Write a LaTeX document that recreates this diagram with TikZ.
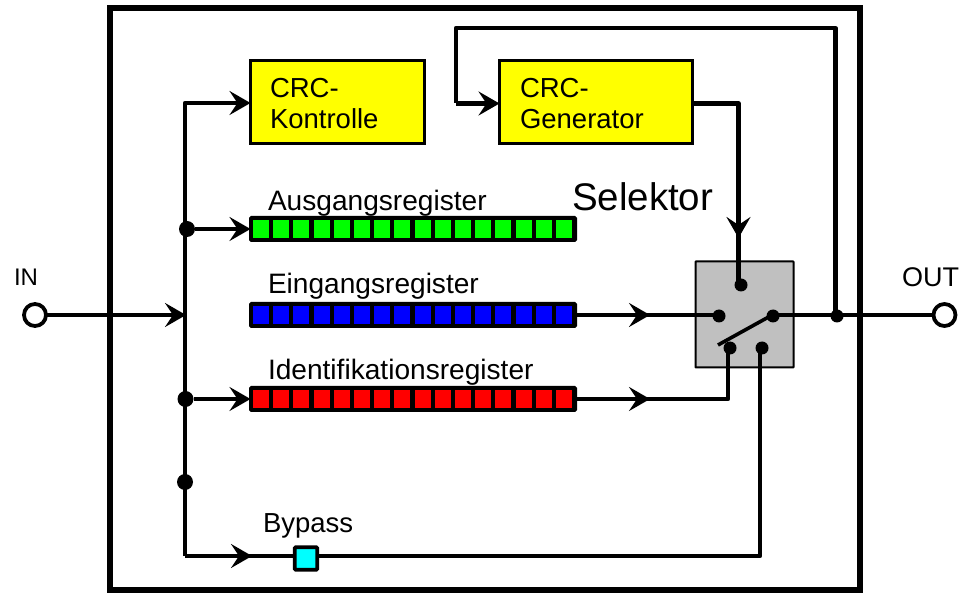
\documentclass[tikz,border=0pt]{standalone}
\usepackage{fontspec}
\setmainfont{Liberation Sans}
\usetikzlibrary{arrows.meta,calc}
\pgfdeclarelayer{front}
\pgfsetlayers{main,front}
\definecolor{crcyellow}{RGB}{255,255,0}
\definecolor{selgray}{RGB}{192,192,192}
\definecolor{regcyan}{RGB}{0,255,255}
\definecolor{reggreen}{RGB}{0,255,0}
\definecolor{regblue}{RGB}{0,0,255}
\definecolor{regred}{RGB}{255,0,0}
\tikzset{
  every node/.style={outer sep=0pt,inner sep=0pt},
  wire/.style={line width=4.2pt,line join=round,black},
  arrowwire/.style={wire,-{Stealth[length=21pt,width=24pt,inset=8pt]}},
  crcbox/.style={draw=black,line width=3pt,fill=crcyellow,anchor=north west},
  regbox/.style={draw=black,line width=3pt,rounded corners=1pt,fill=black,anchor=west,minimum width=325pt,minimum height=23pt},
  cell/.style={minimum width=16pt,minimum height=18pt,anchor=west},
  dot/.style={circle,fill=black,minimum size=#1},
  dot/.default=13pt,
  port/.style={circle,draw=black,line width=3.8pt,fill=white,minimum size=22pt},
  lbl/.style={anchor=base west,font=\fontsize{27.5}{30}\selectfont,text=black},
  reglbl/.style={lbl,font=\fontsize{28.1}{30}\selectfont}
}
\begin{document}
\begin{tikzpicture}[x=1pt,y=-1pt]
\useasboundingbox (0,0) rectangle (962,612);
\fill[white] (0,0) rectangle (962,612);
\node[draw=black,line width=5.5pt,minimum width=750pt,minimum height=582pt,anchor=north west] (frame) at (110,8) {};

% selector body
\node[draw=black,line width=2pt,rounded corners=0.5pt,fill=selgray,minimum width=98pt,minimum height=106pt,anchor=north west] (sel) at (695.5,261.5) {};

% function boxes
\node[crcbox,minimum width=174pt,minimum height=83pt] (kon) at (250.5,60.5) {};
\node[crcbox,minimum width=193pt,minimum height=83pt] (gen) at (499.5,60.5) {};
\node[lbl] (konA) at (270,98) {CRC-};
\node[lbl] (konB) at (270,129) {Kontrolle};
\node[lbl] (genA) at (520,98) {CRC-};
\node[lbl] (genB) at (520,129) {Generator};

% registers
\node[regbox] (ar) at (250.5,229) {};
\node[regbox] (er) at (250.5,315) {};
\node[regbox] (ir) at (250.5,399) {};
\foreach \i in {0,...,15}{
  \node[cell,fill=reggreen] (ag\i) at (253+\i*20.2,229) {};
  \node[cell,fill=regblue] (eb\i) at (253+\i*20.2,315) {};
  \node[cell,fill=regred] (ir\i) at (253+\i*20.2,399) {};
}
\node[reglbl] (la) at (268,210.5) {Ausgangsregister};
\node[reglbl] (le) at (268,293.5) {Eingangsregister};
\node[reglbl] (li) at (268,379.5) {Identifikationsregister};
\node[lbl,font=\fontsize{38.5}{42}\selectfont] (ls) at (572,211) {Selektor};
\node[lbl] (lb) at (263,532) {Bypass};
\node[lbl,font=\fontsize{24}{26}\selectfont] (lin) at (14,286) {IN};
\node[lbl,font=\fontsize{27}{28}\selectfont] (lout) at (902,287) {OUT};

\begin{pgfonlayer}{front}
  \node[draw=black,line width=3.6pt,rounded corners=1pt,fill=regcyan,minimum size=22.5pt] (bp) at (306,558.5) {};
  \node[port] (in) at (35,315) {};
  \node[port] (out) at (944.5,315) {};
\end{pgfonlayer}

% junctions and contacts
\coordinate (bustop) at (185,103);
\coordinate (buscross) at (186,315);
\coordinate (buscorner) at (185,556);
\node[dot=16pt] (ja) at (187,229) {};
\node[dot=16pt] (ji) at (185.5,399) {};
\node[dot=16pt] (jb) at (185,482) {};
\node[dot] (jo) at (837,316) {};
\node[dot] (st) at (741,285) {};
\node[dot] (sl) at (719,316) {};
\node[dot] (sr) at (773,316) {};
\node[dot] (sa) at (730,348) {};
\node[dot] (sb) at (762,348) {};
\coordinate (levera) at (718,345);
\coordinate (leverb) at (774,314);
\coordinate (sat) at (728,348);
\coordinate (sbt) at (760,348);
\coordinate (stt) at (738.5,285);
\coordinate (ea) at (650,315);
\coordinate (ia) at (650,399);
\coordinate (ic) at (728,399);
\coordinate (ba) at (252,556);
\coordinate (bc) at (760,556);
\coordinate (gc) at (738.5,103.5);
\coordinate (ga) at (738.5,238);
\coordinate (fa) at (835.5,28);
\coordinate (fb) at (456,28);
\coordinate (fc) at (456,103.5);

% bus and input
\draw[arrowwire] (in) -- (buscross);
\draw[arrowwire] (buscorner) -- (bustop) -- (bustop -| kon.west);
\draw[arrowwire] (ja) -- (ar.west);
\draw[arrowwire] (ji) -- (ir.west);

% register outputs
\draw[wire] (er.east) -- (er.east -| sl);
\draw[arrowwire] (er.east) -- (ea);
\draw[wire] (ir.east) -- (ic) -- (sat);
\draw[arrowwire] (ir.east) -- (ia);

% bypass path
\draw[wire] (buscorner) -- (bp.west |- buscorner);
\draw[arrowwire] (buscorner) -- (ba);
\draw[wire] (bp.east |- bc) -- (bc) -- (sbt);

% generator loop
\draw[wire] (gen.east |- gc) -- (gc) -- (stt);
\draw[arrowwire] (gc) -- (ga);
\draw[wire] (jo.center -| fa) -- (fa) -- (fb) -- (fc);
\draw[arrowwire] (fc) -- (fc -| gen.west);

% selector output and lever
\draw[wire] (sr.center |- out) -- (out);
\draw[wire,line width=3.6pt] (levera) -- (leverb);
\end{tikzpicture}
\end{document}
